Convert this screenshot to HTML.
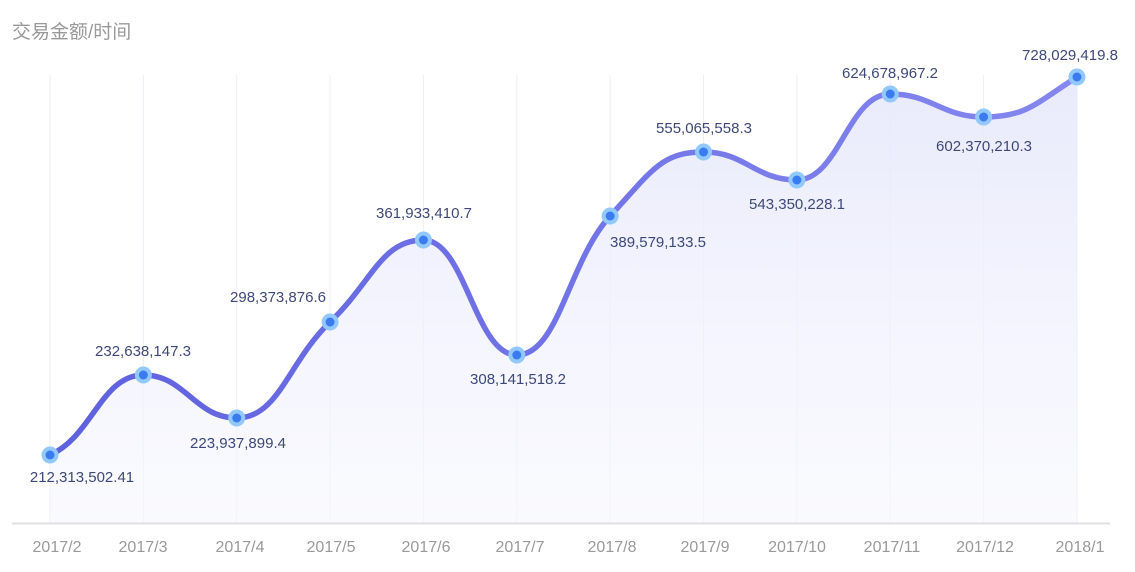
<!DOCTYPE html>
<html><head><meta charset="utf-8"><style>
html,body{margin:0;padding:0;background:#fff;width:1135px;height:572px;overflow:hidden}
svg text{font-family:"Liberation Sans","Noto Sans CJK SC",sans-serif}
</style></head><body>
<svg id="s" width="1135" height="572" xmlns="http://www.w3.org/2000/svg">
<defs>
<linearGradient id="ar" x1="0" y1="0" x2="0" y2="1"><stop offset="0" stop-color="#e6e8fb" stop-opacity="0.9"/><stop offset="1" stop-color="#f7f8fe" stop-opacity="0.6"/></linearGradient>
<linearGradient id="ln" x1="0" y1="0" x2="1" y2="0"><stop offset="0" stop-color="#5e61dd"/><stop offset="1" stop-color="#8587ef"/></linearGradient>
</defs>
<text x="12" y="38" font-size="19" fill="#999">交易金额/时间</text>
<g id="grid" stroke="#eceef3" stroke-width="1"></g>
<path id="area" fill="url(#ar)"></path>
<line x1="12" y1="523.5" x2="1110" y2="523.5" stroke="#e0e0e0" stroke-width="2"/>
<path id="line" fill="none" stroke="url(#ln)" stroke-width="5.5"></path>
<g id="pts"></g>
<g id="lbl" font-size="15" fill="#3d4878" text-anchor="middle"></g>
<g id="xl" font-size="16" fill="#999" text-anchor="middle"></g>
</svg>
<script>
var xs=[],ys=[455,375,418,322,240,355,216,152,180,94,117,77];
for(var i=0;i<12;i++)xs.push(50+i*93.36);
var labs=["212,313,502.41","232,638,147.3","223,937,899.4","298,373,876.6","361,933,410.7","308,141,518.2","389,579,133.5","555,065,558.3","543,350,228.1","624,678,967.2","602,370,210.3","728,029,419.8"];
var ly=[482,356,448,302,218,384,247,133,209,78,151,60];
var lx=[82,143,238,278,424,518,658,704,797,890,984,1070];
var xn=["2017/2","2017/3","2017/4","2017/5","2017/6","2017/7","2017/8","2017/9","2017/10","2017/11","2017/12","2018/1"];
var xx=[57,143,240,331,426,520,612,705,797,892,985,1080];
var ns="http://www.w3.org/2000/svg";
function el(t,a,p){var e=document.createElementNS(ns,t);for(var k in a)e.setAttribute(k,a[k]);p.appendChild(e);return e;}
var d="M"+xs[0]+","+ys[0];
var sl=[];
for(var i=0;i<12;i++){
 if(i==0||i==11){sl.push(i==0?(ys[1]-ys[0])/(xs[1]-xs[0]):(ys[11]-ys[10])/(xs[11]-xs[10]));continue;}
 var a=ys[i]-ys[i-1],b=ys[i+1]-ys[i];
 if(a*b<=0)sl.push(0);else sl.push((ys[i+1]-ys[i-1])/(xs[i+1]-xs[i-1]));
}
sl[0]*=0.5;sl[11]*=1.5;
for(var i=0;i<11;i++){
 var h=(xs[i+1]-xs[i])*0.45;
 d+=" C"+(xs[i]+h)+","+(ys[i]+sl[i]*h)+" "+(xs[i+1]-h)+","+(ys[i+1]-sl[i+1]*h)+" "+xs[i+1]+","+ys[i+1];
}
document.getElementById("line").setAttribute("d",d);
document.getElementById("area").setAttribute("d",d+" L"+xs[11]+",523 L"+xs[0]+",523Z");
var g=document.getElementById("grid"),p=document.getElementById("pts"),l=document.getElementById("lbl"),x=document.getElementById("xl");
for(var i=0;i<12;i++){
 el("line",{x1:xs[i],y1:75,x2:xs[i],y2:523},g);
 el("circle",{cx:xs[i],cy:ys[i],r:8.5,fill:"#93c8fb"},p);
 el("circle",{cx:xs[i],cy:ys[i],r:4.5,fill:"#3a7cf0"},p);
 var t=el("text",{x:lx[i],y:ly[i]},l);t.textContent=labs[i];
 var u=el("text",{x:xx[i],y:552},x);u.textContent=xn[i];
}
</script>
</body></html>
